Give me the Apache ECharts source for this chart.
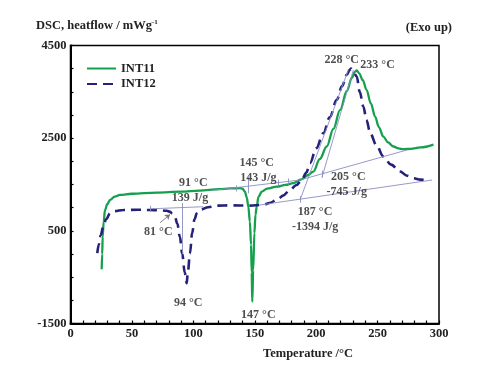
<!DOCTYPE html>
<html>
<head>
<meta charset="utf-8">
<script src="https://cdn.jsdelivr.net/npm/echarts@6/dist/echarts.min.js"></script>
<style>html,body{margin:0;padding:0;background:#fff}#c{width:492px;height:383px}</style>
</head>
<body>
<div id="c"></div>
<script>
// ---- data ----
const int11 = [
[25.4,-330],[25.8,0],[26.2,375],[27,700],[28.1,950],[30,1080],[32.2,1167],[36,1240],[40.3,1275],
[50,1300],[70,1325],[90,1345],[105,1368],[121,1400],[130,1415],[138,1420],[140,1410],[142,1347],
[143.5,1220],[144.8,1023],[146,700],[147,200],[147.5,-400],[148,-1030],[148.7,-350],[149.7,450],
[150.6,850],[151.6,1023],[153,1230],[155.7,1347],[160,1410],[168,1455],[175,1490],[181.4,1528],
[188,1610],[193,1700],[197.7,1780],[203,2050],[208.6,2320],[214,2700],[219.5,3110],[225,3520],
[229,3800],[231.5,3930],[233,3965],[235,3900],[238,3750],[241,3543],[244.5,3250],[248,2967],
[251,2740],[254.7,2535],[258.5,2410],[262.9,2320],[267,2280],[270.8,2262],[277,2270],[285,2300],[295.5,2360]
];
const int12 = [
[21.8,20],[23,200],[24.5,400],[26.7,590],[29,750],[32.2,880],[36,925],[43,950],[55,955],[64.7,950],
[72,945],[78.3,935],[81,910],[83,870],[85,807],[87,650],[89,375],[91,0],[93,-400],[94.6,-630],
[95.5,-400],[97.3,16],[99,450],[101,750],[102.8,880],[106,960],[112,1010],[120,1045],[130,1050],
[146,1045],[157,1060],[162,1100],[168,1167],[173,1260],[178.7,1383],[184,1490],[188.3,1600],
[192,1760],[195,1960],[200,2280],[205.9,2608],[211,2950],[216.8,3327],[221,3620],[225,3870],
[227.5,3980],[228.4,4000],[230,3960],[233,3830],[235.5,3500],[238.4,3183],[241,2890],[244,2608],
[249,2350],[254.7,2103],[261,1930],[268.3,1779],[274,1690],[279,1636],[285,1605],[292.7,1600]
];
const seriesNames = ['INT11','INT12'];
const xTicks = [0,50,100,150,200,250,300];
const yTicks = [-1500,500,2500,4500];
// baseline / tangent / marker segments [x1,y1,x2,y2]
const guideLines = [
[64.7,975,108,1020],     // INT12 baseline, 94 °C peak
[91.3,1100,91.3,0],      // 91 °C marker
[115,1371,186.9,1597],   // INT11 baseline, 147 °C peak
[144.8,1669,144.8,1310], // 145 °C marker
[186.9,1597,274,2245],   // INT11 baseline, exotherm
[154.3,1058,294.4,1597], // INT12 baseline, exotherm
[186.9,1167,226.2,3975], // INT12 tangent
[204.6,1643,230.3,3975], // INT11 tangent
[64.7,1040,64.7,910],[135.3,1480,135.3,1350],[169,1605,169,1475],[177.1,1630,177.1,1500],
[205,1800,205,1660],[187,1250,187,1110]
];
const arrow81 = [[72.9,674],[81,853]];
const annotations = [
['228 °C',220.8,4187],['233 °C',250,4079],['91 °C',100,1526],['139 J/g',97.3,1202],
['81 °C',71.5,481],['94 °C',95.9,-1064],['145 °C',151.6,1958],['143 J/g',152.9,1634],
['205 °C',226.2,1669],['-745 J/g',224.9,1345],['187 °C',199.1,913],['-1394 J/g',199.1,590],
['147 °C',152.9,-1316]
];

const FONT = '"Liberation Serif","Times New Roman",serif';
const GREEN = '#14a04c', NAVY = '#25207a', GUIDE = '#8a8fc2';

const chart = echarts.init(document.getElementById('c'));
chart.setOption({
  animation: false,
  backgroundColor: '#fff',
  grid: {left: 70.5, right: 53, top: 45.5, bottom: 59.5, show: true, borderColor: '#000', borderWidth: 1.5, backgroundColor: 'transparent'},
  legend: {
    data: seriesNames, orient: 'vertical', left: 86, top: 62, padding: 0, itemWidth: 29, itemHeight: 12, itemGap: 2.5,
    itemStyle: {opacity: 0},
    textStyle: {fontFamily: FONT, fontWeight: 'bold', fontSize: 12.5, color: '#222', lineHeight: 12}
  },
  xAxis: {
    type: 'value', min: 0, max: 300, interval: 10,
    axisLine: {onZero: false, lineStyle: {color: '#000', width: 2}},
    axisTick: {inside: true, length: 3, lineStyle: {color: '#000', width: 1.2}},
    splitLine: {show: false},
    axisLabel: {margin: 4, fontFamily: FONT, fontWeight: 'bold', fontSize: 12.5, color: '#222',
      formatter: v => xTicks.includes(v) ? String(v) : ''}
  },
  yAxis: {
    type: 'value', min: -1500, max: 4500, interval: 500,
    axisLine: {show: true, onZero: false, lineStyle: {color: '#000', width: 2}},
    axisTick: {show: true, inside: true, length: 3, lineStyle: {color: '#000', width: 1.2}},
    splitLine: {show: false},
    axisLabel: {margin: 4, fontFamily: FONT, fontWeight: 'bold', fontSize: 12.5, color: '#222',
      formatter: v => yTicks.includes(v) ? String(v) : ''}
  },
  graphic: [
    {type: 'text', left: 36, top: 19, style: {
      text: '{a|DSC, heatflow / mWg}{s|-1}',
      rich: {a: {fontFamily: FONT, fontWeight: 'bold', fontSize: 12.5, fill: '#222'},
             s: {fontFamily: FONT, fontWeight: 'bold', fontSize: 7, fill: '#222', verticalAlign: 'top', padding: [0,0,6,0]}}}},
    {type: 'text', right: 40, top: 21, style: {text: '(Exo up)', fontFamily: FONT, fontWeight: 'bold', fontSize: 12.5, fill: '#222'}},
    {type: 'text', left: 263, top: 347, style: {text: 'Temperature /°C', fontFamily: FONT, fontWeight: 'bold', fontSize: 12.5, fill: '#222', align: 'center', verticalAlign: 'middle'}}
  ],
  series: [
    {name: 'guides', type: 'line', silent: true, data: [], symbol: 'none',
      markLine: {silent: true, symbol: ['none','none'], animation: false, label: {show: false},
        lineStyle: {color: GUIDE, width: 0.9, type: 'solid'},
        emphasis: {disabled: true},
        data: guideLines.map(s => [{coord: [s[0], s[1]]}, {coord: [s[2], s[3]]}])}},
    {name: 'arrow', type: 'line', silent: true, data: [], symbol: 'none',
      markLine: {silent: true, symbol: ['none','arrow'], symbolSize: 5, animation: false, label: {show: false},
        lineStyle: {color: '#777', width: 0.9, type: 'solid'},
        data: [[{coord: arrow81[0]}, {coord: arrow81[1]}]]}},
    {name: seriesNames[0], type: 'line', data: int11, showSymbol: false, symbol: 'none', smooth: 0.35, smoothMonotone: 'x',
      lineStyle: {color: GREEN, width: 2.3}, itemStyle: {color: GREEN}, z: 3},
    {name: seriesNames[1], type: 'line', data: int12, showSymbol: false, symbol: 'none', smooth: 0.35, smoothMonotone: 'x',
      lineStyle: {color: NAVY, width: 2.6, type: [10, 6]}, itemStyle: {color: NAVY}, z: 4},
    {name: 'labels', type: 'scatter', silent: true, symbolSize: 0, z: 6,
      data: annotations.map(a => ({value: [a[1], a[2]], name: a[0]})),
      label: {show: true, position: 'inside', formatter: p => p.name, fontFamily: FONT, fontWeight: 'bold', fontSize: 12, color: '#222'}}
  ]
});
</script>
</body>
</html>
